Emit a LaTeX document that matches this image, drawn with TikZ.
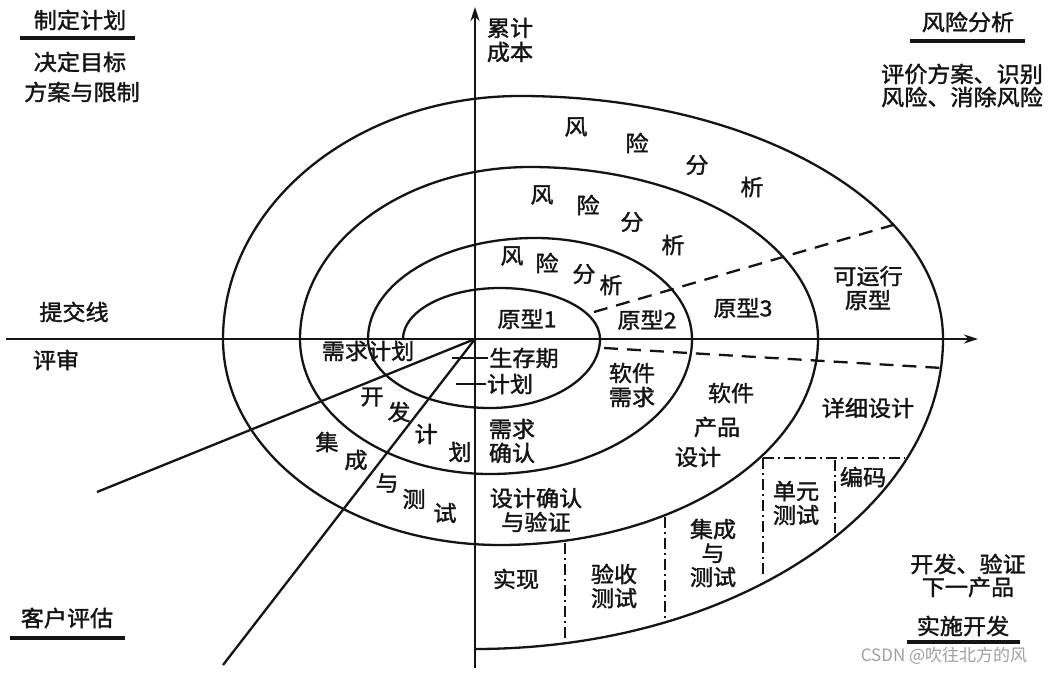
\documentclass[tikz,border=0pt]{standalone}
\usepackage{fontspec}
\setmainfont{Noto Sans CJK SC}[FakeBold=1.6,FakeStretch=1.05]
\newfontfamily\markfont{Noto Sans CJK SC}
\usepackage{xcolor}
\usetikzlibrary{arrows.meta}
\definecolor{SpiralInk}{HTML}{141414}
\definecolor{MarkGray}{HTML}{A0A0A0}

\begin{document}
\begin{tikzpicture}[x=1pt,y=-1pt,draw=SpiralInk,line width=2.3pt,
  txt/.style={inner sep=0pt,text=SpiralInk,font=\fontsize{22}{24}\selectfont,align=center},
  headline/.style={line width=3.4pt},
  dashline/.style={dash pattern=on 14pt off 9pt},
  dotline/.style={line width=1.9pt,dash pattern=on 11pt off 4pt on 2pt off 4pt}]
  \useasboundingbox[fill=white] (0,0) rectangle (1055,674);

  % axes and the two rays of the review quadrant
  \coordinate (O) at (475,339);
  \coordinate (xstart) at (6,339);
  \coordinate (xend) at (978,339);
  \coordinate (ystart) at (475,668);
  \coordinate (yend) at (475,7);
  \coordinate (rayA) at (97,492);
  \coordinate (rayB) at (223,665);
  \draw[-{Stealth[length=14pt,width=9pt]}] (xstart) -- (xend);
  \draw[-{Stealth[length=14pt,width=9pt]}] (ystart) -- (yend);
  \draw (O) -- (rayA);
  \draw (O) -- (rayB);

  \draw (403,339)
    arc[start angle=180,end angle=270,x radius=97,y radius=51]
    arc[start angle=270,end angle=360,x radius=100,y radius=51]
    arc[start angle=0,end angle=90,x radius=110,y radius=69]
    arc[start angle=90,end angle=180,x radius=122,y radius=69]
    arc[start angle=180,end angle=270,x radius=167,y radius=101]
    arc[start angle=270,end angle=360,x radius=157,y radius=101]
    arc[start angle=0,end angle=90,x radius=202,y radius=135]
    arc[start angle=90,end angle=180,x radius=190,y radius=135]
    arc[start angle=180,end angle=270,x radius=230,y radius=172]
    arc[start angle=270,end angle=360,x radius=288,y radius=172]
    arc[start angle=0,end angle=90,x radius=318,y radius=206]
    arc[start angle=90,end angle=180,x radius=277,y radius=206]
    arc[start angle=180,end angle=270,x radius=297,y radius=243]
    arc[start angle=270,end angle=360,x radius=423,y radius=243]
    arc[start angle=0,end angle=90,x radius=468,y radius=310];

  \coordinate (dA1) at (594,312);
  \coordinate (dA2) at (893,225);
  \coordinate (dB1) at (604,348);
  \coordinate (dB2) at (942,368);
  \draw[dashline] (dA1) -- (dA2);
  \draw[dashline] (dB1) -- (dB2);

  \draw[dotline] (763,458) -- (905,458);
  \draw[dotline] (763,458) -- (763,576);
  \draw[dotline] (835,460) -- (835,533);
  \draw[dotline] (665,517) -- (665,621);
  \draw[dotline] (565,543) -- (565,642);

  % corner captions
  \node[txt] (plan) at (80,20) {制定计划};
  \draw[headline] (20,38) -- (135,38);
  \node[txt] (goalA) at (80,62) {决定目标};
  \node[txt] (goalB) at (82,92) {方案与限制};
  \node[txt] (risk) at (968,22) {风险分析};
  \draw[headline] (910,41) -- (1025,41);
  \node[txt] (riskA) at (962,74) {评价方案、识别};
  \node[txt] (riskB) at (962,97) {风险、消除风险};
  \node[txt] (cost) at (510,40) {累计\\成本};
  \node[txt] (commit) at (74,312) {提交线};
  \node[txt] (review) at (56,360) {评审};
  \node[txt] (client) at (67,618) {客户评估};
  \draw[headline] (10,638) -- (125,638);
  \node[txt] (devA) at (968,564) {开发、验证};
  \node[txt] (devB) at (968,587) {下一产品};
  \node[txt] (impl) at (963,626) {实施开发};
  \draw[headline] (907,642) -- (1020,642);

  \node[txt] (proto1) at (527,319) {原型1};
  \node[txt] (proto2) at (647,320) {原型2};
  \node[txt] (proto3) at (743,308) {原型3};
  \node[txt] (runproto) at (868,288) {可运行\\原型};
  \node[txt] (swreq) at (632,385) {软件\\需求};
  \node[txt] (prodA) at (731,393) {软件};
  \node[txt] (prodB) at (717,427) {产品};
  \node[txt] (prodC) at (698,457) {设计};
  \node[txt] (detail) at (868,408) {详细设计};
  \node[txt] (unit) at (796,503) {单元\\测试};
  \node[txt] (coding) at (863,477) {编码};
  \node[txt] (integ) at (713,553) {集成\\与\\测试};
  \node[txt] (accept) at (614,586) {验收\\测试};
  \node[txt] (realise) at (516,579) {实现};
  \node[txt] (desver) at (536,510) {设计确认\\与验证};
  \node[txt] (reqver) at (512,441) {需求\\确认};
  \node[txt] (reqplan) at (368,351) {需求计划};
  \node[txt] (life) at (524,358) {生存期};
  \node[txt] (lifeplan) at (510,384) {计划};
  \draw[line width=1.8pt] (life.west) -- ++(-36,0);
  \draw[line width=1.8pt] (lifeplan.west) -- ++(-30,0);

  \node[txt] (rOa) at (576,127) {风};
  \node[txt] (rOb) at (637,143) {险};
  \node[txt] (rOc) at (697,165) {分};
  \node[txt] (rOd) at (752,187) {析};
  \node[txt] (rMa) at (542,195) {风};
  \node[txt] (rMb) at (588,205) {险};
  \node[txt] (rMc) at (632,222) {分};
  \node[txt] (rMd) at (673,245) {析};
  \node[txt] (rIa) at (512,256) {风};
  \node[txt] (rIb) at (547,263) {险};
  \node[txt] (rIc) at (584,274) {分};
  \node[txt] (rId) at (611,285) {析};

  \node[txt] (devPa) at (372,397) {开};
  \node[txt] (devPb) at (399,412) {发};
  \node[txt] (devPc) at (426,434) {计};
  \node[txt] (devPd) at (460,452) {划};
  \node[txt] (itA) at (327,442) {集};
  \node[txt] (itB) at (356,460) {成};
  \node[txt] (itC) at (387,483) {与};
  \node[txt] (itD) at (414,499) {测};
  \node[txt] (itE) at (445,513) {试};

  \node[txt,text=MarkGray,font=\markfont\fontsize{17}{19}\selectfont] (mark) at (944,656) {CSDN @吹往北方的风};
\end{tikzpicture}
\end{document}
